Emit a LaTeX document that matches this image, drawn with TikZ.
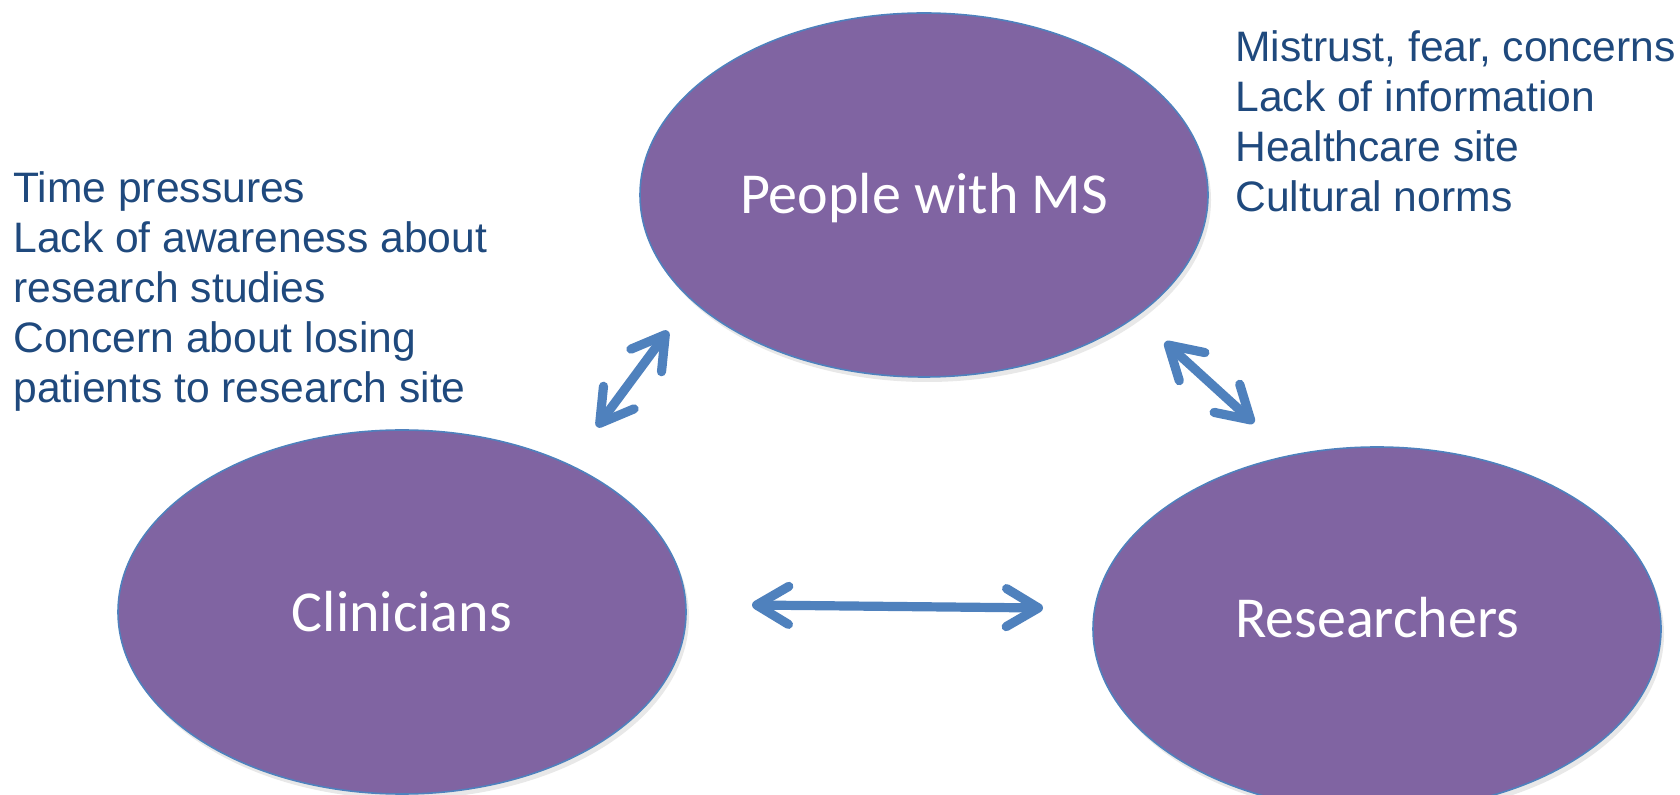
\documentclass[tikz,border=0pt]{standalone}
\usepackage{fontspec}
\setmainfont{Liberation Sans}
\newfontfamily\calib{Carlito}
\usetikzlibrary{shapes.geometric,arrows.meta,shadows}
\definecolor{msPurple}{HTML}{8064A2}
\definecolor{msBlue}{HTML}{4F81BD}
\definecolor{msText}{HTML}{1F497D}
\tikzset{
  party/.style={ellipse, fill=msPurple, draw=msBlue, line width=0.8pt,
    minimum width=284pt, minimum height=182pt, inner sep=0pt,
    drop shadow={shadow xshift=1.5pt, shadow yshift=-2.5pt, opacity=0.18}},
  partytext/.style={inner sep=0pt, text=white,
    font=\calib\fontsize{29}{34}\selectfont},
  barrier/.style={inner sep=0pt, align=left, text=msText,
    font=\fontsize{21.3}{25}\selectfont},
  link/.style={draw=msBlue, line width=4.6pt, line cap=round,
    {Straight Barb[round, length=16pt, width=19pt]}-{Straight Barb[round, length=16pt, width=19pt]}}
}
\begin{document}
\begin{tikzpicture}[x=0.5pt, y=-0.5pt]
\useasboundingbox (0,0) rectangle (1680,795);
\node[party, label={[partytext, yshift=-1.7pt]center:People with MS}] (pms) at (924,195) {};
\node[party, label={[partytext]center:Clinicians}] (cli) at (402,612) {};
\node[party, label={[partytext, yshift=5.5pt]center:Researchers}] (res) at (1377,629) {};
\node[barrier, anchor=north west] (cliTxt) at (13,171.5)
  {Time pressures\\Lack of awareness about\\research studies\\Concern about losing\\patients to research site};
\node[barrier, anchor=north west] (pmsTxt) at (1235,30)
  {Mistrust, fear, concerns\\Lack of information\\Healthcare site\\Cultural norms};
\coordinate (a1s) at (597,427);
\coordinate (a1e) at (668,331);
\coordinate (a2s) at (1165,342);
\coordinate (a2e) at (1254,423);
\coordinate (a3s) at (752,605);
\coordinate (a3e) at (1043,608);
\draw[link] (a1s) -- (a1e);
\draw[link] (a2s) -- (a2e);
\draw[link] (a3s) -- (a3e);
\end{tikzpicture}
\end{document}
